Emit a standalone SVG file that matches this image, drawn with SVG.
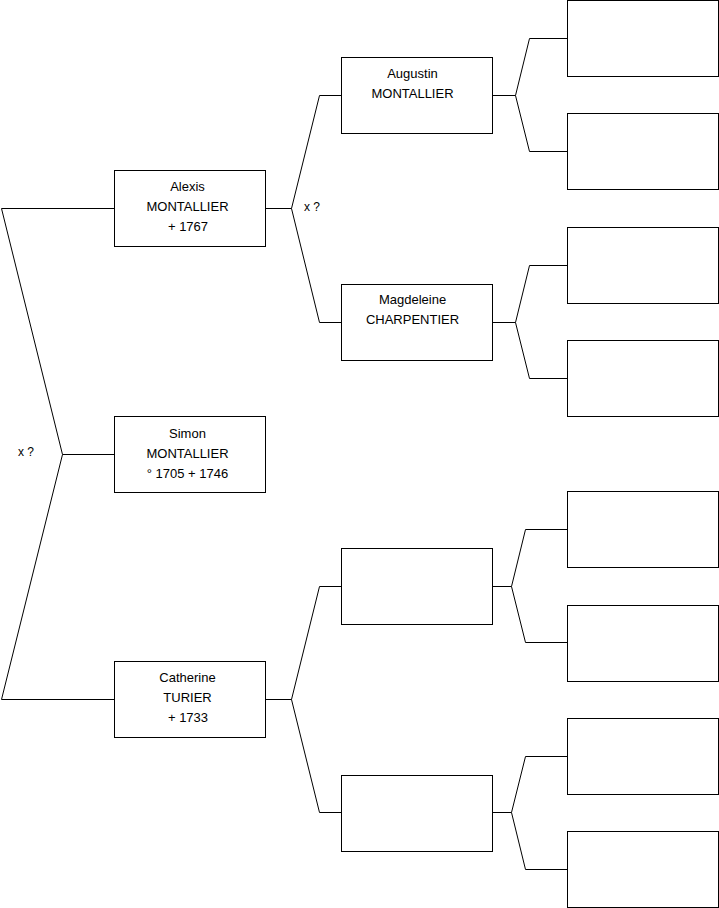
<svg xmlns="http://www.w3.org/2000/svg" width="719" height="908" viewBox="0 0 719 908">
<style>
.box{fill:#fff;stroke:#000;stroke-width:1}
.ln{fill:none;stroke:#000;stroke-width:1}
text{font-family:"Liberation Sans",Arial,sans-serif;font-size:13px;fill:#000;text-anchor:middle}
.lbl{text-anchor:start;font-size:12px}
</style>
<rect width="719" height="908" fill="#fff"/>
<g id="connectors">
<polyline class="ln" points="114.5,208.5 1.5,208.5 62.5,454.5 1.5,699.5 114.5,699.5"/>
<line class="ln" x1="62.5" y1="454.5" x2="114.5" y2="454.5"/>
<polyline class="ln" points="341.5,95.5 319.5,95.5 291.5,208.5 319.5,322.5 341.5,322.5"/>
<line class="ln" x1="265.5" y1="208.5" x2="291.5" y2="208.5"/>
<polyline class="ln" points="341.5,586.5 319.5,586.5 291.5,699.5 319.5,812.5 341.5,812.5"/>
<line class="ln" x1="265.5" y1="699.5" x2="291.5" y2="699.5"/>
<polyline class="ln" points="567.5,38.5 529.5,38.5 515.5,95.5 529.5,151.5 567.5,151.5"/>
<line class="ln" x1="492.5" y1="95.5" x2="515.5" y2="95.5"/>
<polyline class="ln" points="567.5,265.5 529.5,265.5 515.5,322.5 529.5,378.5 567.5,378.5"/>
<line class="ln" x1="492.5" y1="322.5" x2="515.5" y2="322.5"/>
<polyline class="ln" points="567.5,529.5 525.5,529.5 511.5,586.5 525.5,642.5 567.5,642.5"/>
<line class="ln" x1="492.5" y1="586.5" x2="511.5" y2="586.5"/>
<polyline class="ln" points="567.5,756.5 525.5,756.5 511.5,812.5 525.5,869.5 567.5,869.5"/>
<line class="ln" x1="492.5" y1="812.5" x2="511.5" y2="812.5"/>
<text class="lbl" x="18" y="456">x ?</text>
<text class="lbl" x="304" y="211">x ?</text>
</g>
<g id="alexis"><rect class="box" x="114.5" y="170.5" width="151" height="76"/><text x="187.5" y="191">Alexis</text><text x="187.5" y="211">MONTALLIER</text><text x="188" y="231">+ 1767</text></g>
<g id="simon"><rect class="box" x="114.5" y="416.5" width="151" height="76"/><text x="187.5" y="437.5">Simon</text><text x="187.5" y="457.5">MONTALLIER</text><text x="187.5" y="477.5">° 1705 + 1746</text></g>
<g id="catherine"><rect class="box" x="114.5" y="661.5" width="151" height="76"/><text x="187.5" y="681.5">Catherine</text><text x="187.5" y="701.5">TURIER</text><text x="188" y="721.5">+ 1733</text></g>
<g id="augustin"><rect class="box" x="341.5" y="57.5" width="151" height="76"/><text x="412.5" y="78">Augustin</text><text x="412.5" y="98">MONTALLIER</text></g>
<g id="magdeleine"><rect class="box" x="341.5" y="284.5" width="151" height="76"/><text x="412.5" y="304">Magdeleine</text><text x="412.5" y="324">CHARPENTIER</text></g>
<g id="p3"><rect class="box" x="341.5" y="548.5" width="151" height="76"/></g>
<g id="p4"><rect class="box" x="341.5" y="775.5" width="151" height="76"/></g>
<g id="g1"><rect class="box" x="567.5" y="0.5" width="151" height="76"/></g>
<g id="g2"><rect class="box" x="567.5" y="113.5" width="151" height="76"/></g>
<g id="g3"><rect class="box" x="567.5" y="227.5" width="151" height="76"/></g>
<g id="g4"><rect class="box" x="567.5" y="340.5" width="151" height="76"/></g>
<g id="g5"><rect class="box" x="567.5" y="491.5" width="151" height="76"/></g>
<g id="g6"><rect class="box" x="567.5" y="605.5" width="151" height="76"/></g>
<g id="g7"><rect class="box" x="567.5" y="718.5" width="151" height="76"/></g>
<g id="g8"><rect class="box" x="567.5" y="831.5" width="151" height="76"/></g>
</svg>
